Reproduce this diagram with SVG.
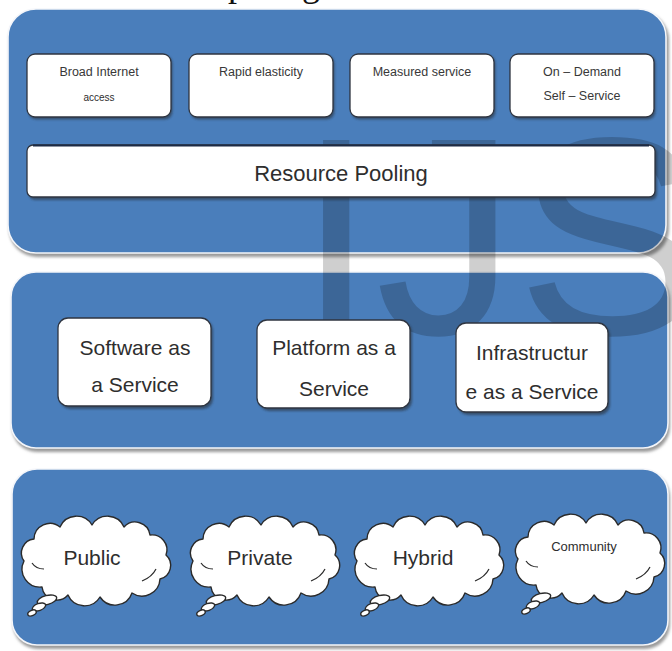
<svg xmlns="http://www.w3.org/2000/svg" width="672" height="651" viewBox="0 0 672 651">
  <style>
    .panel { fill: #4a7ebb; stroke: #f4f6fa; stroke-width: 1.6; }
    .box { fill: #ffffff; stroke: #2f3540; stroke-width: 1.3; }
    .cloud { fill: #ffffff; stroke: #2a2a2a; stroke-width: 1.4; stroke-linejoin: round; }
    .inner { fill: none; stroke: #2a2a2a; stroke-width: 1.2; }
    .t { font-family: "Liberation Sans", Arial, sans-serif; fill: #2e2e2e; text-anchor: middle; }
    .small { font-size: 12.5px; fill: #383838; }
    .mid { font-size: 21px; }
    .big { font-size: 22px; }
    .mark { font-family: "Liberation Sans", Arial, sans-serif; font-size: 282px; fill: #000000; fill-opacity: 0.19; }
  </style>
  <defs>
    <filter id="soft" x="-5%" y="-5%" width="110%" height="115%">
      <feGaussianBlur stdDeviation="1.6"/>
    </filter>
    <filter id="boxshadow" x="-5%" y="-10%" width="112%" height="125%">
      <feGaussianBlur stdDeviation="0.8"/>
    </filter>
    <!-- generic cloud outline, 150 x 78 local box -->
    <path id="cloudShape" d="M4,40 A14,14 0 0 1 14,18 A16,16 0 0 1 40,6 A18,18 0 0 1 72,4 A18,18 0 0 1 104,6 A15,15 0 0 1 130,14 A15,15 0 0 1 146,34 A14,14 0 0 1 140,58 A18,18 0 0 1 112,72 A18,18 0 0 1 80,76 A18,18 0 0 1 48,74 A15,15 0 0 1 22,66 A18,18 0 0 1 4,40 Z"/>
    <g id="cloudCallout">
      <use href="#cloudShape" class="cloud"/>
      <path class="inner" d="M122,60 Q132,56 136,48"/>
      <path class="inner" d="M12,42 Q16,48 24,48"/>
      <ellipse cx="27" cy="79" rx="10" ry="4.5" transform="rotate(-15 27 79)" class="cloud"/>
      <ellipse cx="19" cy="86" rx="7" ry="3.5" transform="rotate(-20 19 86)" class="cloud"/>
      <ellipse cx="12" cy="92" rx="4.5" ry="2.6" transform="rotate(-25 12 92)" class="cloud"/>
    </g>
  </defs>

  <!-- page caption fragment: only its descenders reach below the top edge -->
  <text x="166" y="-4" font-family="'Liberation Serif', serif" font-size="36" fill="#111">computing</text>

  <!-- panel shadows -->
  <g fill="#9a9a9a" filter="url(#soft)">
    <rect x="9" y="12" width="660" height="245" rx="28"/>
    <rect x="12" y="275" width="658" height="177" rx="25"/>
    <rect x="13" y="472" width="657" height="177" rx="25"/>
  </g>

  <g id="layer-characteristics">
    <rect class="panel" x="8" y="9" width="658" height="244" rx="28"/>
  </g>
  <g id="layer-service-models">
    <rect class="panel" x="11" y="272" width="657" height="176" rx="25"/>
  </g>
  <g id="layer-deployment-models">
    <rect class="panel" x="12" y="469" width="656" height="176" rx="25"/>
  </g>

  <!-- watermark lettering -->
  <text class="mark" x="297" y="334">IJS</text>

  <!-- characteristics -->
  <g id="broad-internet-access">
    <rect x="28.5" y="55.5" width="144" height="64" rx="8" fill="#222" opacity="0.5" filter="url(#boxshadow)"/>
    <rect class="box" x="27" y="54" width="144" height="63" rx="8"/>
    <text class="t small" x="99" y="76">Broad Internet</text>
    <text class="t" x="99" y="101" font-size="10" fill="#383838">access</text>
  </g>
  <g id="rapid-elasticity">
    <rect x="190.5" y="55.5" width="144" height="64" rx="8" fill="#222" opacity="0.5" filter="url(#boxshadow)"/>
    <rect class="box" x="189" y="54" width="144" height="63" rx="8"/>
    <text class="t small" x="261" y="76">Rapid elasticity</text>
  </g>
  <g id="measured-service">
    <rect x="351.5" y="55.5" width="144" height="64" rx="8" fill="#222" opacity="0.5" filter="url(#boxshadow)"/>
    <rect class="box" x="350" y="54" width="144" height="63" rx="8"/>
    <text class="t small" x="422" y="76">Measured service</text>
  </g>
  <g id="on-demand-self-service">
    <rect x="511.5" y="55.5" width="144" height="64" rx="8" fill="#222" opacity="0.5" filter="url(#boxshadow)"/>
    <rect class="box" x="510" y="54" width="144" height="63" rx="8"/>
    <text class="t small" x="582" y="76">On – Demand</text>
    <text class="t small" x="582" y="100">Self – Service</text>
  </g>
  <g id="resource-pooling">
    <rect x="29" y="147" width="628" height="53" rx="6" fill="#222" opacity="0.5" filter="url(#boxshadow)"/>
    <rect class="box" x="27" y="145" width="628" height="52" rx="6"/>
    <path d="M33,145.5 H649" stroke="#1d2b45" stroke-width="2"/>
    <text class="t big" x="341" y="181">Resource Pooling</text>
  </g>

  <!-- service models -->
  <g id="software-as-a-service">
    <rect x="60" y="320" width="153" height="89" rx="10" fill="#222" opacity="0.5" filter="url(#boxshadow)"/>
    <rect class="box" x="58" y="318" width="153" height="88" rx="10"/>
    <text class="t mid" x="135" y="355">Software as</text>
    <text class="t mid" x="135" y="392">a Service</text>
  </g>
  <g id="platform-as-a-service">
    <rect x="259" y="322" width="153" height="89" rx="10" fill="#222" opacity="0.5" filter="url(#boxshadow)"/>
    <rect class="box" x="257" y="320" width="153" height="88" rx="10"/>
    <text class="t mid" x="334" y="355">Platform as a</text>
    <text class="t mid" x="334" y="396">Service</text>
  </g>
  <g id="infrastructure-as-a-service">
    <rect x="458" y="325" width="152" height="90" rx="10" fill="#222" opacity="0.5" filter="url(#boxshadow)"/>
    <rect class="box" x="456" y="323" width="152" height="89" rx="10"/>
    <text class="t mid" x="532" y="360">Infrastructur</text>
    <text class="t mid" x="532" y="399">e as a Service</text>
  </g>

  <!-- deployment models -->
  <g id="public-cloud">
    <use href="#cloudCallout" transform="translate(20,521)"/>
    <text class="t mid" x="92" y="565">Public</text>
  </g>
  <g id="private-cloud">
    <use href="#cloudCallout" transform="translate(189,521)"/>
    <text class="t mid" x="260" y="565">Private</text>
  </g>
  <g id="hybrid-cloud">
    <use href="#cloudCallout" transform="translate(353,521)"/>
    <text class="t mid" x="423" y="565">Hybrid</text>
  </g>
  <g id="community-cloud">
    <use href="#cloudCallout" transform="translate(514,519)"/>
    <text class="t" x="584" y="551" font-size="13">Community</text>
  </g>
</svg>
